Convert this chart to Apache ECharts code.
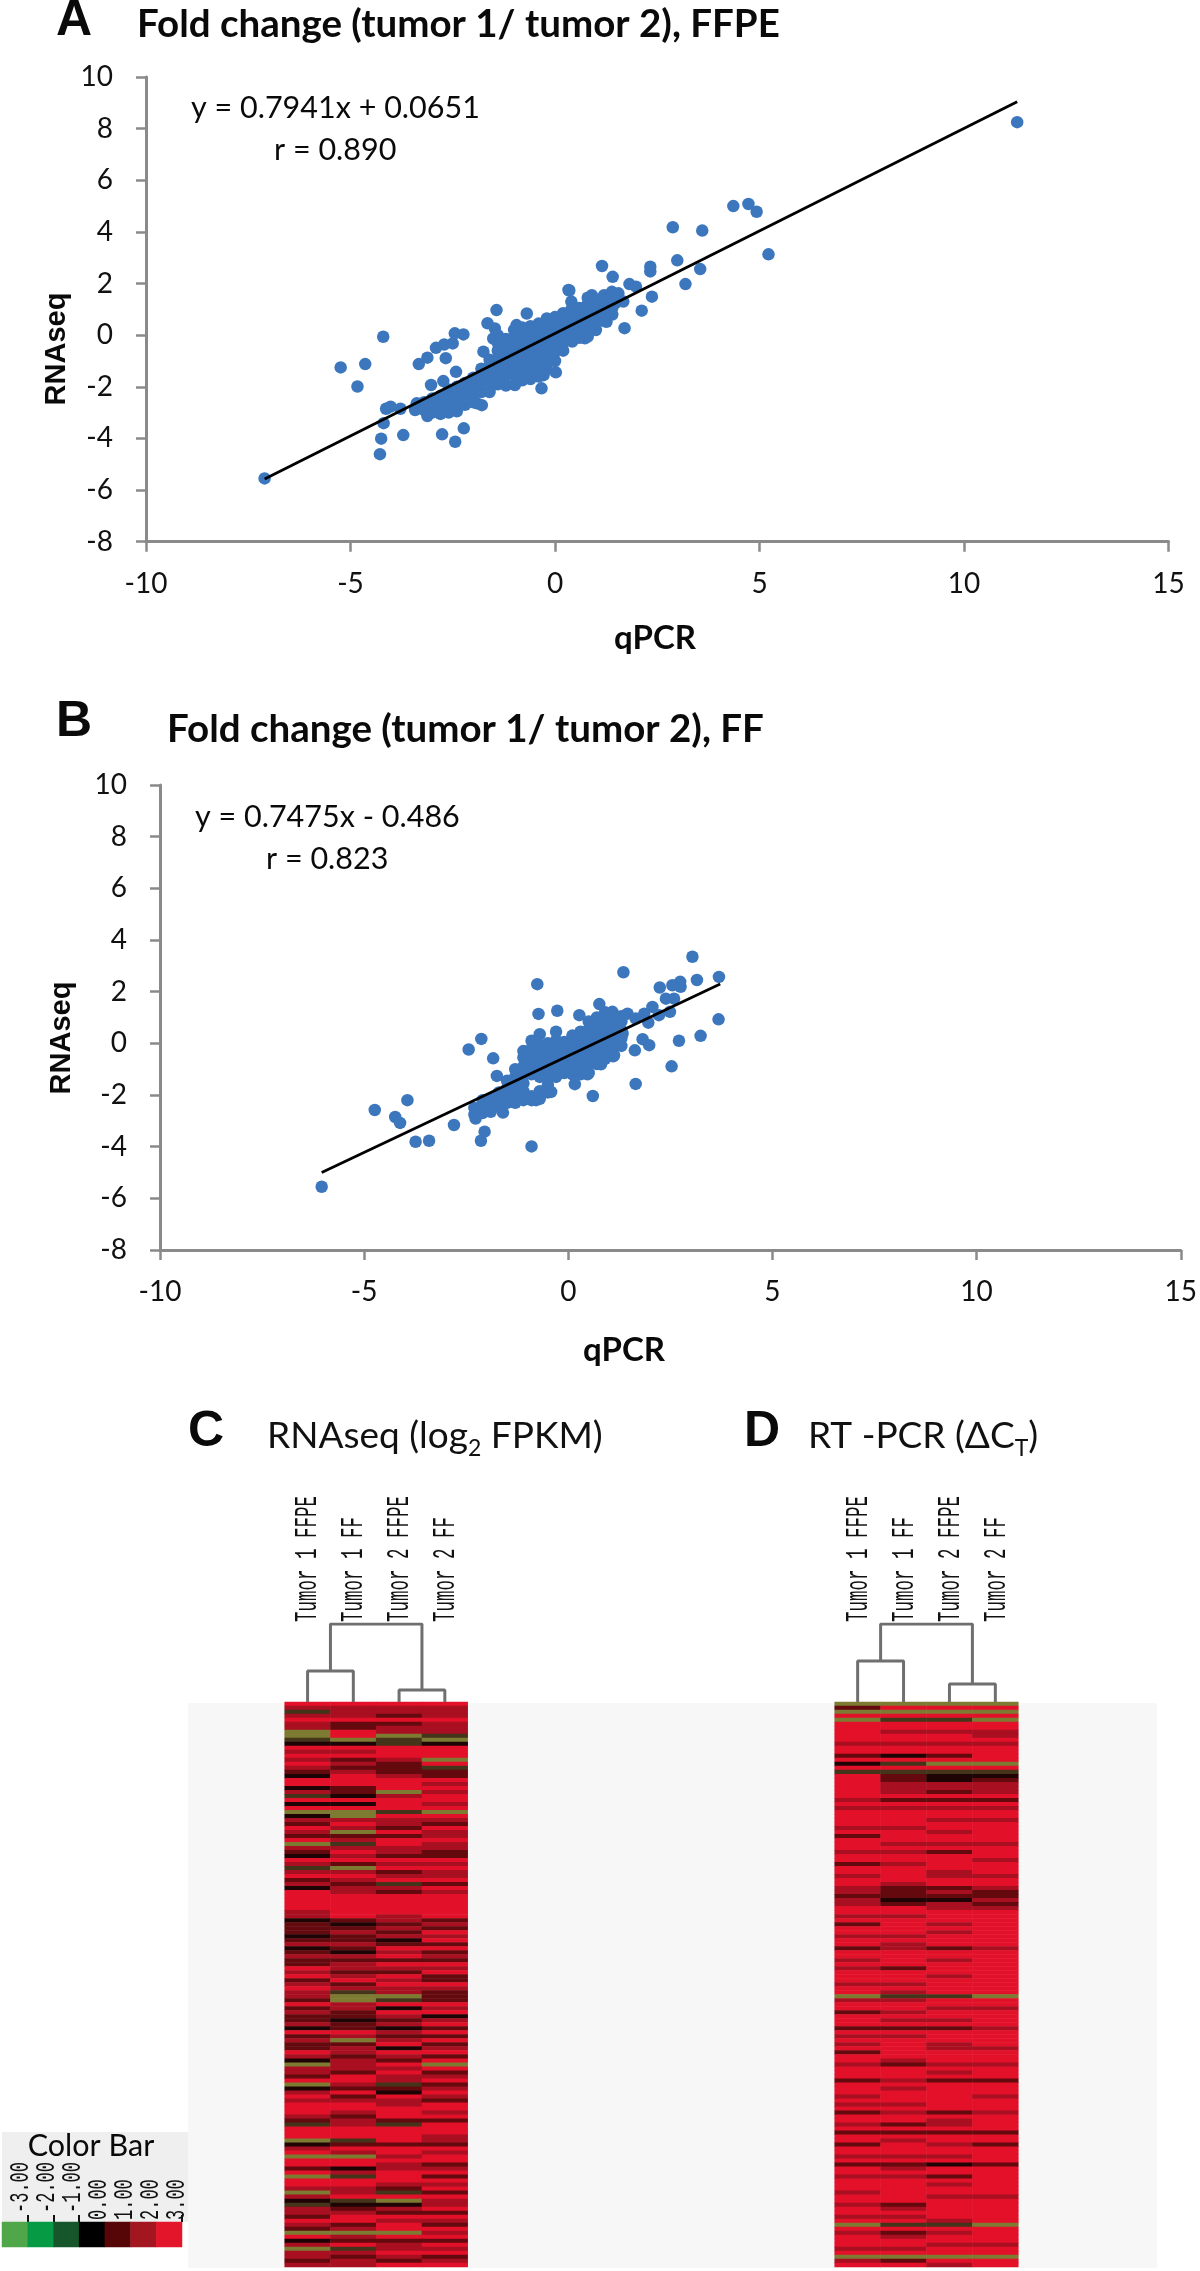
<!DOCTYPE html>
<html><head><meta charset="utf-8">
<style>html,body{margin:0;padding:0;background:#fff}#c{width:1200px;height:2271px}</style>
<script src="https://cdn.jsdelivr.net/npm/echarts@6/dist/echarts.min.js"></script>
</head><body><div id="c"></div>
<script>
const xTicksMin=-10,xTicksMax=15,yTicksMin=-8,yTicksMax=10;
const trendA=[[-7.1,-5.57],[11.3,9.04]];
const trendB=[[-6.04,-5.0],[3.72,2.3]];
const pointsA=[[11.3,8.25],[-7.1,-5.55],[-4.2,-0.06],[-5.24,-1.25],[-4.64,-1.12],[-4.83,-1.99],[-4.28,-4.61],[-4.25,-4.01],[-4.19,-3.41],[-3.71,-3.87],[-2.76,-3.84],[-2.44,-4.13],[-2.23,-3.61],[-4.13,-2.85],[-4.02,-2.77],[-3.78,-2.85],[-3.38,-2.64],[-3.42,-2.9],[-3.12,-3.13],[-3.33,-1.12],[-3.12,-0.87],[-2.91,-0.49],[-2.71,-0.36],[-2.5,-0.32],[-2.45,0.07],[-2.24,0.03],[-2.67,-0.89],[-3.03,-1.93],[-2.73,-1.78],[-2.42,-1.42],
[-1.43,0.97],[-1.65,0.46],[-0.69,0.84],[0.33,1.75],[-1.47,0.26],[-1.51,-0.13],[-0.94,0.39],[-1.75,-0.64],[-0.33,-2.06],[0.02,-1.44],[-0.28,-1.55],[-1.91,-2.64],[-1.79,-2.71],[-0.98,-1.93],
[4.36,5.0],[4.73,5.08],[4.93,4.78],[5.22,3.13],[2.88,4.18],[3.6,4.05],[2.99,2.9],[3.55,2.56],[3.19,1.98],[2.33,2.65],[2.33,2.47],[2.37,1.49],[2.12,0.95],[1.7,0.27],[1.15,2.68],[1.41,2.26],[1.82,1.98],[1.98,1.88],[0.35,1.73],[0.9,1.55],[1.39,1.68],[1.55,1.62],[1.67,1.3],[1.47,1.23],[1.26,0.52],[0.73,-0.12],[0.42,-0.25],[0.02,-0.51],
[-3.2,-2.9],[-3.2,-2.6],[-3.0,-3.0],[-3.0,-2.7],[-3.0,-2.45],[-2.8,-3.05],[-2.8,-2.75],[-2.8,-2.35],[-2.6,-3.0],[-2.6,-2.7],[-2.6,-2.4],[-2.6,-2.1],[-2.4,-2.95],[-2.4,-2.65],[-2.4,-2.3],[-2.4,-2.0],[-2.2,-2.7],[-2.2,-2.4],[-2.2,-2.1],[-2.2,-1.85],[-2.0,-2.6],[-2.0,-2.3],[-2.0,-1.95],[-2.0,-1.65],[-1.8,-2.2],[-1.8,-1.85],[-1.8,-1.55],[-1.8,-1.3],[-1.6,-2.2],[-1.6,-1.8],[-1.6,-1.5],[-1.6,-1.2],[-1.6,-0.95],
[-1.4,-1.9],[-1.4,-1.6],[-1.4,-1.25],[-1.4,-0.9],[-1.4,-0.6],[-1.4,-0.3],[-1.4,0.0],[-1.2,-1.95],[-1.2,-1.55],[-1.2,-1.2],[-1.2,-0.85],[-1.2,-0.5],[-1.2,-0.15],[-1.0,-1.9],[-1.0,-1.5],[-1.0,-1.15],[-1.0,-0.8],[-1.0,-0.45],[-1.0,-0.1],[-1.0,0.2],[-0.8,-1.75],[-0.8,-1.4],[-0.8,-1.05],[-0.8,-0.7],[-0.8,-0.35],[-0.8,0.0],[-0.8,0.3],[-0.6,-1.7],[-0.6,-1.3],[-0.6,-0.95],[-0.6,-0.6],[-0.6,-0.25],[-0.6,0.1],[-0.6,0.35],[-0.4,-1.6],[-0.4,-1.2],[-0.4,-0.85],[-0.4,-0.5],[-0.4,-0.15],[-0.4,0.2],[-0.4,0.45],[-0.2,-1.3],[-0.2,-0.95],[-0.2,-0.6],[-0.2,-0.25],[-0.2,0.1],[-0.2,0.45],[-0.2,0.65],
[0.0,-1.0],[0.0,-0.65],[0.0,-0.3],[0.0,0.05],[0.0,0.4],[0.0,0.7],[0.2,-0.6],[0.2,-0.3],[0.2,0.0],[0.2,0.3],[0.2,0.6],[0.2,0.85],[0.4,0.1],[0.4,0.4],[0.4,0.7],[0.4,1.0],[0.4,1.3],[0.6,-0.1],[0.6,0.25],[0.6,0.55],[0.6,0.85],[0.6,1.05],[0.8,-0.05],[0.8,0.3],[0.8,0.6],[0.8,0.85],[0.8,1.2],[0.8,1.45],[1.0,0.2],[1.0,0.5],[1.0,0.75],[1.0,1.05],[1.0,1.3],[1.2,0.55],[1.2,0.8],[1.2,1.1],[1.2,1.35],[1.2,1.55],[1.4,0.8],[1.4,1.05],[1.4,1.3],[1.4,1.6]];
const pointsB=[[-6.04,-5.55],[-0.76,2.29],[1.35,2.75],[-0.73,1.14],[-0.27,1.26],[0.27,1.09],[0.76,1.52],[-2.13,0.17],[-2.44,-0.24],[-1.84,-0.58],[-1.75,-1.26],[-4.74,-2.58],[-3.94,-2.2],[-4.24,-2.85],[-4.12,-3.08],[-2.8,-3.16],[-3.74,-3.81],[-3.41,-3.77],[-2.05,-3.42],[-2.14,-3.77],[-0.9,-3.99],[0.6,-2.04],[0.16,-1.58],[-1.6,-2.68],[-2.27,-2.91],
[1.08,1.22],[3.04,3.35],[3.69,2.57],[3.15,2.45],[2.74,2.38],[2.55,2.25],[2.24,2.16],[2.75,2.19],[2.39,1.73],[2.59,1.73],[2.06,1.41],[2.49,1.22],[2.22,1.09],[1.96,0.8],[1.86,1.15],[1.45,1.15],[1.65,0.96],[1.33,0.38],[1.82,0.16],[1.98,-0.07],[1.63,-0.27],[2.71,0.1],[3.24,0.29],[3.68,0.93],[2.53,-0.89],[1.65,-1.57],[1.12,-0.46],[0.8,-0.81],[0.47,-1.2],[-0.42,-1.88],[-0.79,-2.2],
[-2.3,-2.75],[-2.3,-2.5],[-2.1,-2.7],[-2.1,-2.45],[-2.1,-2.2],[-1.9,-2.65],[-1.9,-2.4],[-1.9,-2.15],[-1.7,-2.45],[-1.7,-2.15],[-1.7,-1.9],[-1.5,-2.3],[-1.5,-2.05],[-1.5,-1.75],[-1.5,-1.45],[-1.3,-2.3],[-1.3,-2.0],[-1.3,-1.6],[-1.3,-1.3],[-1.3,-1.0],[-1.1,-2.2],[-1.1,-1.85],[-1.1,-1.55],[-1.1,-1.2],[-1.1,-0.9],[-1.1,-0.55],[-1.1,-0.3],[-0.9,-2.2],[-0.9,-2.05],[-0.9,-1.2],[-0.9,-0.85],[-0.9,-0.5],[-0.9,-0.2],[-0.9,0.1],[-0.7,-2.15],[-0.7,-1.85],[-0.7,-1.3],[-0.7,-1.0],[-0.7,-0.7],[-0.7,-0.35],[-0.7,-0.05],[-0.7,0.35],[-0.5,-1.9],[-0.5,-1.6],[-0.5,-1.3],[-0.5,-0.95],[-0.5,-0.65],[-0.5,-0.3],[-0.5,0.0],
[-0.3,-1.3],[-0.3,-1.05],[-0.3,-0.8],[-0.3,-0.5],[-0.3,-0.2],[-0.3,0.1],[-0.3,0.45],[-0.1,-1.15],[-0.1,-0.85],[-0.1,-0.55],[-0.1,-0.25],[-0.1,0.05],[0.1,-1.2],[0.1,-0.9],[0.1,-0.55],[0.1,-0.25],[0.1,0.05],[0.1,0.3],[0.3,-1.2],[0.3,-0.85],[0.3,-0.5],[0.3,-0.2],[0.3,0.1],[0.3,0.45],[0.5,-1.15],[0.5,-0.75],[0.5,-0.4],[0.5,-0.1],[0.5,0.2],[0.5,0.55],[0.5,0.85],[0.7,-0.8],[0.7,-0.5],[0.7,-0.2],[0.7,0.1],[0.7,0.4],[0.7,0.7],[0.7,1.0],[0.9,-0.6],[0.9,-0.3],[0.9,0.0],[0.9,0.3],[0.9,0.6],[0.9,0.9],[0.9,1.2],[1.1,-0.5],[1.1,-0.2],[1.1,0.1],[1.1,0.4],[1.1,0.7],[1.1,1.0],[1.3,-0.1],[1.3,0.2],[1.3,0.5],[1.3,0.85],[1.3,1.05]];

const sampleNames=['Tumor 1 FFPE','Tumor 1 FF','Tumor 2 FFPE','Tumor 2 FF'];
// digit = heat level + 3, one string per gene row, one char per sample
const rnaRows=['6666','5555','2555','5545','6666','5445','5455','1655','1612','2121','3323','6666','5566','6666','5451','6546','5442','4544','3654','6666','6665','3466','5415','2356','6666','3365','6666','1121','3166','5555','4654','6546','5165','4445','6566','1265','5555','4654','3544','6666','5455','2166','5545','6655','4566','5424','3556','6545','6666','6666','6666','6666','5666','5656','3454','4345','4454','4546','3455','4436','5544','3466','4354','5565','4444','4566','6555','5446','6564','4654','5466','6555','5254','5114','4124','6566','4535','5466','4453','4345','5456','3434','6656','4544','5156','4464','4535','6566','5454','3546','1561','5556','5464','4655','6656','1524','3445','5636','6465','5554','6656','6666','6565','5466','4544','2526','6666','6666','6665','1265','3444','5666','6565','1156','6666','6654','4355','6566','1264','6666','6655','5546','1524','5666','3215','2335','5456','5544','4666','6655','5464','4566','1115','6566','3444','5656','1255','5566','5454','4545','5566'];
const pcrRows=['1111','4666','1111','6666','1221','6666','6666','6555','6665','6666','5555','6666','6666','4346','6666','3211','6666','2222','6433','6434','6555','6555','6545','6666','5444','6666','5555','6666','6666','6655','6666','5566','6656','4666','6666','6555','6666','5546','6666','6665','4566','6666','6656','5655','6666','6566','5445','5454','4444','5335','5454','6655','6666','5566','6666','4656','6666','6656','5566','6666','6566','4545','6666','6666','5656','6666','5466','6666','6656','6666','5566','6666','6566','1221','5566','6666','6655','4566','6666','6556','6666','4445','6666','5566','6666','5656','6655','4666','6666','6566','5455','6666','6656','6666','4544','6666','6566','6666','5665','6666','5566','6666','4545','6666','6656','5456','6666','4444','6666','6566','4654','6666','6666','5556','6666','4434','6566','6666','5546','6666','6656','6666','5666','6655','6666','5466','6566','6666','5566','6656','1221','6666','5456','6566','6666','6655','5566','6666','1111','5466','6656'];
const heatColors=['#5f9a3e','#7d7a32','#43341a','#1f0406','#640a0f','#a80f20','#e31029'];
const barLevels=['-3.00','-2.00','-1.00','0.00','1.00','2.00','3.00'];
const barColors=['#50a74a','#069a45','#17552b','#000000','#570608','#a3151f','#e3152b'];
// dendrogram merge heights
const mergeC={left:31,right:12,root:78};
const mergeD={left:41,right:18,root:78};

const toCells=rows=>{const o=[];rows.forEach((r,i)=>[...r].forEach((c,j)=>o.push([j,i,+c-3])));return o;};
const sans='Lato, "Open Sans", sans-serif';
const axisGray='#8a8a8a';
function axes(gi){
  return {
    x:{type:'value',gridIndex:gi,min:xTicksMin,max:xTicksMax,interval:5,splitLine:{show:false},
       axisLine:{onZero:false,lineStyle:{color:axisGray,width:3}},axisTick:{length:10,lineStyle:{color:axisGray,width:2.5}},
       axisLabel:{fontFamily:sans,fontSize:28,color:'#111',margin:28}},
    y:{type:'value',gridIndex:gi,min:yTicksMin,max:yTicksMax,interval:2,splitLine:{show:false},
       axisLine:{onZero:false,lineStyle:{color:axisGray,width:3}},axisTick:{length:10,lineStyle:{color:axisGray,width:2.5}},
       axisLabel:{fontFamily:sans,fontSize:28,color:'#111',margin:33}}
  };
}
const a0=axes(0),a1=axes(1);
const hiddenCat=(gi,data,inv)=>({type:'category',gridIndex:gi,data,show:false,inverse:!!inv});
const rowIds=rnaRows.map((_,i)=>i);
const dendX=gi=>({type:'value',gridIndex:gi,min:-0.5,max:3.5,show:false});
const dendY=gi=>({type:'value',gridIndex:gi,min:0,max:78,show:false});
function dendroSeries(m,axisIdx){
  const links=[[[0,0],[0,m.left],[1,m.left],[1,0]],[[2,0],[2,m.right],[3,m.right],[3,0]],[[0.5,m.left],[0.5,m.root],[2.5,m.root],[2.5,m.right]]];
  return links.map(d=>({type:'line',xAxisIndex:axisIdx,yAxisIndex:axisIdx,data:d,symbol:'none',silent:true,
     lineStyle:{color:'#6f6f6f',width:3},animation:false}));
}
const scatter=(d,i)=>({type:'scatter',xAxisIndex:i,yAxisIndex:i,data:d,symbolSize:12.5,itemStyle:{color:'#3c77bd',opacity:1},z:2,animation:false,large:false});
const trend=(d,i)=>({type:'line',xAxisIndex:i,yAxisIndex:i,data:d,symbol:'none',lineStyle:{color:'#000',width:2.8},z:3,animation:false});
const heat=(rows,i)=>({type:'heatmap',xAxisIndex:i,yAxisIndex:i,data:toCells(rows),progressive:0,animation:false,itemStyle:{borderWidth:0}});

const texts=[
 {t:'A',x:74,y:21,f:'bold 50px "Liberation Sans"'},
 {t:'B',x:74,y:722,f:'bold 50px "Liberation Sans"'},
 {t:'C',x:206,y:1432,f:'bold 50px "Liberation Sans"'},
 {t:'D',x:762,y:1432,f:'bold 50px "Liberation Sans"'},
 {t:'Fold change (tumor 1/ tumor 2), FFPE',x:137,y:25,f:'bold 38.5px Lato',a:'left'},
 {t:'Fold change (tumor 1/ tumor 2), FF',x:167,y:730,f:'bold 38.5px Lato',a:'left'},
 {t:'y = 0.7941x + 0.0651',x:191,y:108,f:'30.5px Lato',a:'left'},
 {t:'r = 0.890',x:274,y:150,f:'30.5px Lato',a:'left'},
 {t:'y = 0.7475x - 0.486',x:195,y:817,f:'30.5px Lato',a:'left'},
 {t:'r = 0.823',x:266,y:859,f:'30.5px Lato',a:'left'},
 {t:'qPCR',x:655,y:638,f:'bold 33px Lato'},
 {t:'qPCR',x:624,y:1350,f:'bold 33px Lato'},
 {t:'RNAseq',x:57,y:349,f:'bold 29px "Liberation Sans"',r:90},
 {t:'RNAseq',x:62,y:1038,f:'bold 29px "Liberation Sans"',r:90},
 {t:'Color Bar',x:91,y:2146,f:'30.5px Lato'}
];
const g=[];
g.push({type:'rect',shape:{x:188,y:1703,width:969,height:565},style:{fill:'#f7f7f7'},z:-10,silent:true});
g.push({type:'rect',shape:{x:2,y:2132,width:186,height:90},style:{fill:'#efefef'},z:-9,silent:true});
texts.forEach(o=>g.push({type:'text',x:o.x,y:o.y,rotation:o.r?o.r*Math.PI/180:0,z:20,
  style:{text:o.t,font:o.f,fill:'#0a0a0a',textAlign:o.a||'center',textVerticalAlign:'middle'}}));
// titles with subscripts
const richTitle=(x,y,txt)=>({type:'text',x,y,z:20,style:{text:txt,textAlign:'left',textVerticalAlign:'middle',
  font:'37px Lato',fill:'#111',rich:{sub:{font:'23px Lato',fill:'#111',padding:[26,0,0,0]}}}});
g.push(richTitle(267,1436,'RNAseq (log{sub|2} FPKM)'));
g.push(richTitle(808,1436,'RT -PCR (\u0394C{sub|T})'));
// sample labels above the dendrograms (bottom edge at y=1622, condensed mono, stretched)
const labelCols=[[308,354,400,446],[859,905,951,997]];
labelCols.forEach(cols=>cols.forEach((cx,i)=>{
  g.push({type:'text',x:cx,y:1622,rotation:Math.PI/2,scaleY:1.8,z:20,
    style:{text:sampleNames[i],font:'17.5px "Liberation Mono"',fill:'#111',textAlign:'left',textVerticalAlign:'middle'}});
}));
// color-bar labels
const barX=[21,47,73,99,125,151,177],barBottom=[2213,2213,2213,2220,2220,2220,2220];
barLevels.forEach((s,i)=>g.push({type:'text',x:barX[i],y:barBottom[i],rotation:Math.PI/2,scaleY:1.6,z:20,
  style:{text:s,font:'17px "Liberation Mono"',fill:'#111',textAlign:'left',textVerticalAlign:'middle'}}));

const chart=echarts.init(document.getElementById('c'),null,{renderer:'canvas'});
chart.setOption({
  animation:false,backgroundColor:'#fff',
  grid:[
   {left:146,top:77,width:1022.5,height:464.7},
   {left:160,top:785,width:1022,height:465},
   {left:284.7,top:1702,width:183,height:565},
   {left:834.7,top:1702,width:183.6,height:565},
   {left:2,top:2222,width:180,height:25},
   {left:284.7,top:1624,width:183,height:78},
   {left:834.7,top:1624,width:183.6,height:78}
  ],
  xAxis:[a0.x,a1.x,hiddenCat(2,sampleNames),hiddenCat(3,sampleNames),
    {type:'category',gridIndex:4,data:barLevels,position:'top',
     axisLine:{show:false},axisLabel:{show:false},
     axisTick:{show:true,length:7,lineStyle:{color:'#111',width:2},interval:(i)=>i>=1&&i<=3}},
    dendX(5),dendX(6)],
  yAxis:[a0.y,a1.y,hiddenCat(2,rowIds,true),hiddenCat(3,rowIds,true),hiddenCat(4,['bar']),dendY(5),dendY(6)],
  visualMap:[
   {type:'piecewise',show:false,seriesIndex:[4,5],dimension:2,pieces:heatColors.map((c,i)=>({value:i-3,color:c}))},
   {type:'piecewise',show:false,seriesIndex:[6],dimension:2,pieces:barColors.map((c,i)=>({value:i-3,color:c}))}
  ],
  series:[scatter(pointsA,0),trend(trendA,0),scatter(pointsB,1),trend(trendB,1),heat(rnaRows,2),heat(pcrRows,3),
    {type:'heatmap',xAxisIndex:4,yAxisIndex:4,data:barLevels.map((_,i)=>[i,0,i-3]),animation:false},
    ...dendroSeries(mergeC,5),...dendroSeries(mergeD,6)],
  graphic:{elements:g}
});
</script></body></html>
